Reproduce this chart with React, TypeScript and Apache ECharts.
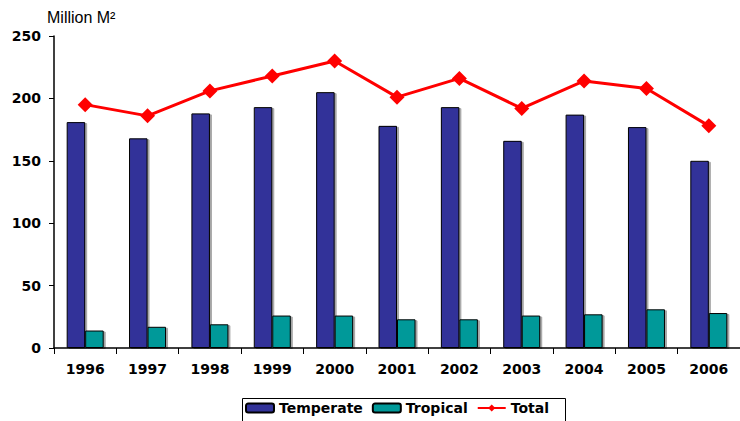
import React, { useEffect, useRef } from "react";
import * as echarts from "echarts";

const years = ["1996", "1997", "1998", "1999", "2000", "2001", "2002", "2003", "2004", "2005", "2006"];
const temperate = [181, 168, 188, 193, 205, 178, 193, 166, 187, 177, 150];
const tropical = [14, 17, 19, 26, 26, 23, 23, 26, 27, 31, 28];
const total = [195, 186, 206, 218, 230, 201, 216, 192, 214, 208, 178];
const yTicks = { min: 0, max: 250, interval: 50 };

const FONT = "DejaVu Sans";

export default function App() {
  const ref = useRef<HTMLDivElement>(null);
  useEffect(() => {
    if (!ref.current) return;
    const chart = echarts.init(ref.current, undefined, { renderer: "svg" });
    const barShadow = { shadowColor: "rgba(0,0,0,0.35)", shadowOffsetX: 2, shadowOffsetY: 1, shadowBlur: 1 };
    chart.setOption({
      animation: false,
      backgroundColor: "#ffffff",
      title: {
        text: "Million M²",
        left: 42,
        top: 4,
        textStyle: { fontFamily: "Liberation Sans", fontSize: 16, fontWeight: "normal", color: "#000" },
      },
      graphic: [
        {
          type: "rect",
          left: 240,
          top: 396,
          shape: { width: 323, height: 40 },
          style: { fill: "none", stroke: "#000", lineWidth: 1 },
          silent: true,
        },
      ],
      legend: {
        top: 401,
        left: 245,
        padding: 0,
        itemWidth: 28,
        itemHeight: 9,
        itemGap: 9,
        textStyle: { fontFamily: FONT, fontSize: 14, fontWeight: "bold", color: "#000" },
        data: ["Temperate", "Tropical", "Total"],
      },
      grid: { left: 54, top: 36, width: 696, height: 312, containLabel: false },
      xAxis: {
        type: "category",
        data: years,
        boundaryGap: true,
        axisLine: { lineStyle: { color: "#000", width: 1.5 } },
        axisTick: { show: true, alignWithLabel: false, length: 6, lineStyle: { color: "#000", width: 1 } },
        axisLabel: { margin: 14, fontFamily: FONT, fontSize: 14, fontWeight: "bold", color: "#000", interval: 0 },
        splitLine: { show: false },
      },
      yAxis: {
        type: "value",
        min: yTicks.min,
        max: yTicks.max,
        interval: yTicks.interval,
        axisLine: { show: true, lineStyle: { color: "#000", width: 1.5 } },
        axisTick: { show: true, length: 5, lineStyle: { color: "#000", width: 1 } },
        axisLabel: { margin: 13, fontFamily: FONT, fontSize: 14, fontWeight: "bold", color: "#000" },
        splitLine: { show: false },
      },
      series: [
        {
          name: "Temperate",
          type: "bar",
          data: temperate,
          barWidth: 18.5,
          barGap: "0%",
          itemStyle: { color: "#333399", borderColor: "#000", borderWidth: 1, ...barShadow },
        },
        {
          name: "Tropical",
          type: "bar",
          data: tropical,
          barWidth: 18.5,
          barGap: "0%",
          itemStyle: { color: "#009999", borderColor: "#000", borderWidth: 1, ...barShadow },
        },
        {
          name: "Total",
          type: "line",
          data: total,
          symbol: "diamond",
          symbolSize: 15,
          lineStyle: { color: "#ff0000", width: 3 },
          itemStyle: { color: "#ff0000" },
          z: 5,
        },
      ],
    });
    return () => chart.dispose();
  }, []);
  return <div ref={ref} style={{ position: "absolute", left: 0, top: 0, width: 740, height: 421 }} />;
}
